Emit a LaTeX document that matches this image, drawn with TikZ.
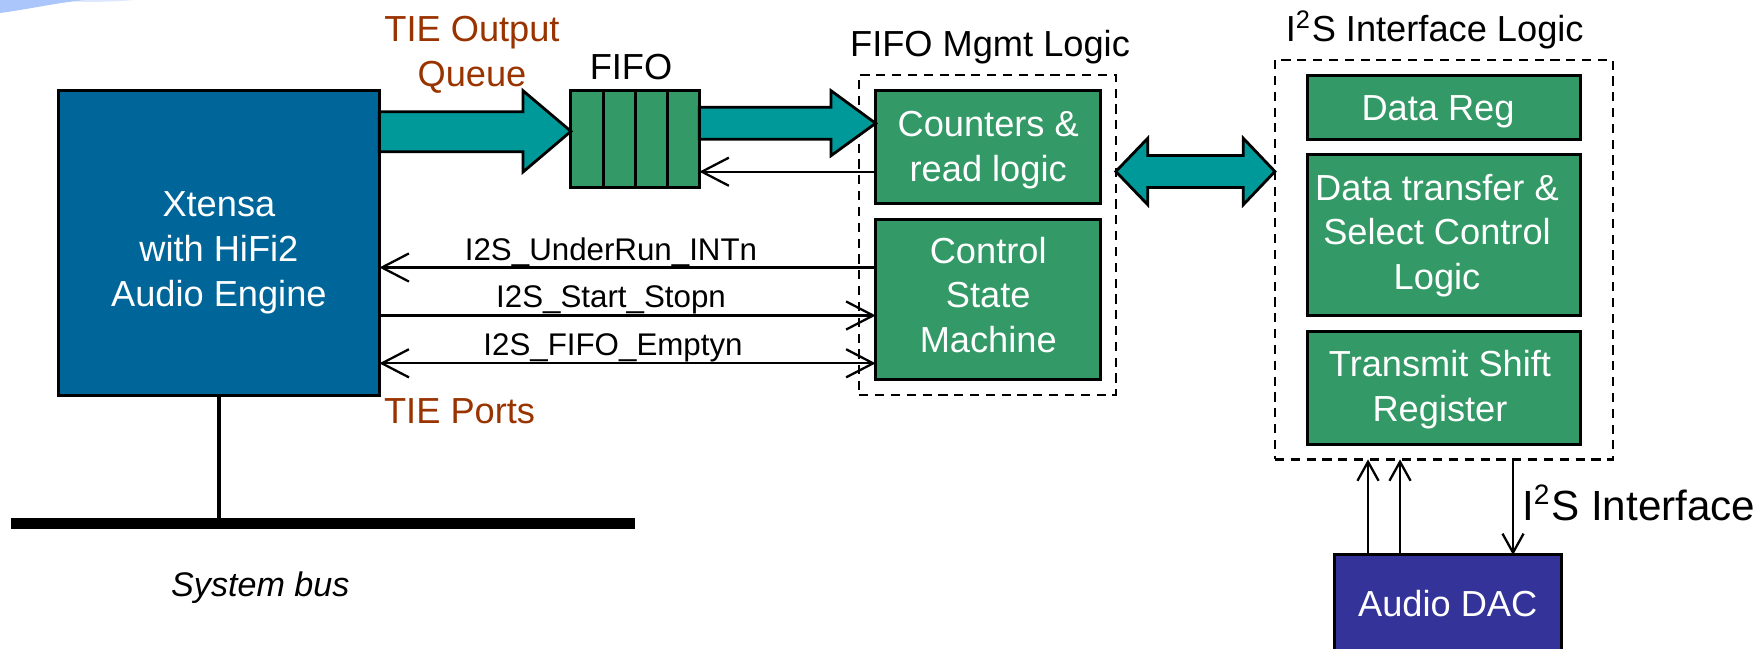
\documentclass[tikz,border=0pt]{standalone}
\usepackage{fontspec}
\setmainfont{Liberation Sans}
\usetikzlibrary{arrows.meta,calc}
\definecolor{xtblue}{RGB}{0,102,153}
\definecolor{teal}{RGB}{0,153,153}
\definecolor{boxgreen}{RGB}{51,153,102}
\definecolor{tiebrown}{RGB}{153,51,0}
\definecolor{dacblue}{RGB}{51,51,153}
\definecolor{swoosh}{RGB}{170,198,250}
\definecolor{swooshlight}{RGB}{222,232,252}
\newcommand\mlines[1]{\begin{tabular}[t]{@{}c@{}}#1\end{tabular}}
\begin{document}
\begin{tikzpicture}[x=0.01cm,y=-0.01cm,
  blk/.style={draw=black, line width=0.85pt, inner sep=0pt, outer sep=0pt},
  greenbox/.style={blk, fill=boxgreen},
  dashbox/.style={draw=black, line width=0.7pt, dash pattern=on 2.6pt off 1.9pt, inner sep=0pt, outer sep=0pt},
  txt/.style={inner sep=0pt, anchor=base, font=\fontsize{10.3pt}{12.7pt}\selectfont},
  wtxt/.style={txt, text=white},
  btxt/.style={txt, text=tiebrown},
  siglab/.style={inner sep=0pt, anchor=base, font=\fontsize{8.9pt}{10pt}\selectfont},
  fat/.style={draw=black, line width=0.8pt, fill=teal, line join=miter},
  sig/.style={line width=0.65pt, -{Straight Barb[length=7.7pt,width=8pt]}},
  sigboth/.style={line width=0.65pt, {Straight Barb[length=7.7pt,width=8pt]}-{Straight Barb[length=7.7pt,width=8pt]}},
  sm/.style={line width=0.65pt, -{Straight Barb[length=5.4pt,width=6pt]}}
]
\useasboundingbox (0,0) rectangle (1764,648);

% slide decoration
\fill[swooshlight] (60,0) .. controls (80,3) and (110,2) .. (135,0) -- cycle;
\fill[swoosh] (0,0) -- (0,13) .. controls (30,9) and (55,3) .. (85,0) -- cycle;

% main blocks
\node[blk, fill=xtblue, minimum width=3.208cm, minimum height=3.043cm] (xt) at (218.9,242.85) {};
\node[wtxt] (xtt) at (218.9,216.7) {\mlines{Xtensa\\with HiFi2\\Audio Engine}};

\node[blk, fill=boxgreen, minimum width=1.283cm, minimum height=0.966cm] (fifo) at (635.15,139) {};
\foreach \f in {0.25,0.5,0.75}
  \draw[line width=0.85pt] ($(fifo.north west)!\f!(fifo.north east)$) -- ($(fifo.south west)!\f!(fifo.south east)$);

\node[dashbox, minimum width=2.564cm, minimum height=3.2cm] (fm) at (987.5,235) {};
\node[greenbox, minimum width=2.25cm, minimum height=1.123cm] (cnt) at (988.2,147.15) {};
\node[wtxt] (cntt) at (988.2,136.7) {\mlines{Counters \&\\read logic}};
\node[greenbox, minimum width=2.25cm, minimum height=1.593cm] (ctl) at (988.2,299.65) {};
\node[wtxt] (ctlt) at (988.2,263.3) {\mlines{Control\\State\\Machine}};

\node[dashbox, minimum width=3.38cm, minimum height=3.993cm] (i2s) at (1444,259.65) {};
\node[greenbox, minimum width=2.73cm, minimum height=0.637cm] (dreg) at (1444,107.15) {};
\node[wtxt] (dregt) at (1438,120.7) {Data Reg};
\node[greenbox, minimum width=2.73cm, minimum height=1.6cm] (dtr) at (1444,235) {};
\node[wtxt] (dtrt) at (1437,200) {\mlines{Data transfer \&\\Select Control\\Logic}};
\node[greenbox, minimum width=2.73cm, minimum height=1.123cm] (tsr) at (1444,387.85) {};
\node[wtxt] (tsrt) at (1440,376.7) {\mlines{Transmit Shift\\Register}};

\node[blk, fill=dacblue, minimum width=2.265cm, minimum height=1.05cm] (dac) at (1447.95,607.5) {};
\node[wtxt] (dact) at (1447.7,616) {Audio DAC};

\node[fill=black, inner sep=0pt, outer sep=0pt, minimum width=6.236cm, minimum height=0.113cm] (bus) at (323,523.35) {};

% labels
\node[btxt] (tieq) at (472,41.7) {\mlines{TIE Output\\Queue}};
\node[txt] (fifol) at (631,79.3) {FIFO};
\node[txt] (fml) at (990,56.7) {FIFO Mgmt Logic};
\node[txt] (i2sl) at (1434.7,41.7) {I\textsuperscript{2}S Interface Logic};
\node[btxt, anchor=base west] (tiep) at (383.4,423.3) {TIE Ports};
\node[inner sep=0pt, anchor=base west, font=\fontsize{12pt}{14pt}\selectfont] (i2sif) at (1521.4,520) {I\textsuperscript{2}S Interface};
\node[inner sep=0pt, anchor=base, font=\fontsize{9.7pt}{11pt}\selectfont\itshape] (sysb) at (260.3,596) {System bus};

\node[siglab] (l1) at (611,260) {I2S\_UnderRun\_INTn};
\node[siglab] (l2) at (611,307.3) {I2S\_Start\_Stopn};
\node[siglab] (l3) at (613,355) {I2S\_FIFO\_Emptyn};

% fat arrows
\draw[fat] (xt.east |- 0,111.7) -- (523,111.7) -- (523,90.7) -- (fifo.west |- 0,131.3)
  -- (523,172) -- (523,151.7) -- (xt.east |- 0,151.7) -- cycle;
\draw[fat] (fifo.east |- 0,107.3) -- (831,107.3) -- (831,90.7) -- (cnt.west |- 0,123.3)
  -- (831,155.7) -- (831,139.3) -- (fifo.east |- 0,139.3) -- cycle;
\draw[fat] (fm.east |- 0,171.5) -- (1147.7,138.3) -- (1147.7,155.5) -- (1243.3,155.5) -- (1243.3,138.3)
  -- (i2s.west |- 0,171.5) -- (1243.3,204.7) -- (1243.3,187.5) -- (1147.7,187.5) -- (1147.7,204.7) -- cycle;

% thin connectors
\draw[sig] (cnt.west |- 0,171.7) -- (fifo.east |- 0,171.7);
\draw[sig] (ctl.west |- 0,267.5) -- (xt.east |- 0,267.5);
\draw[sig] (xt.east |- 0,315.5) -- (ctl.west |- 0,315.5);
\draw[sigboth] (xt.east |- 0,363.3) -- (ctl.west |- 0,363.3);

\draw[sm] (dac.north -| 1368,0) -- (i2s.south -| 1368,0);
\draw[sm] (dac.north -| 1400,0) -- (i2s.south -| 1400,0);
\draw[sm] (i2s.south -| 1513,0) -- (dac.north -| 1513,0);

% system bus
\draw[line width=1.3pt] (xt.south) -- (xt.south |- bus.north);
\end{tikzpicture}
\end{document}
